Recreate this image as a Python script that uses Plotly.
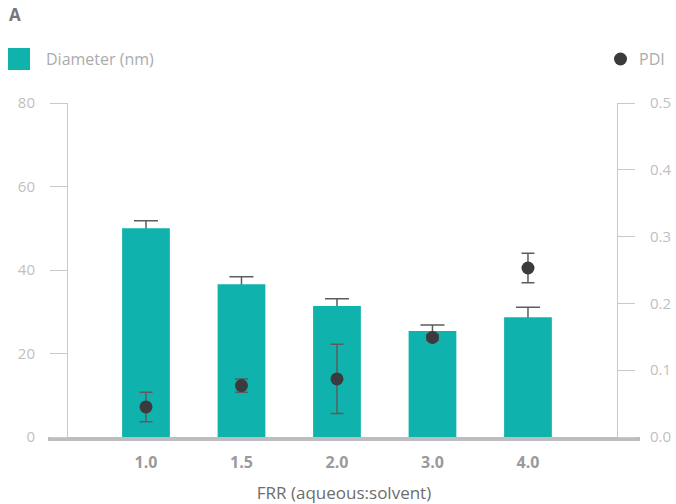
import plotly.graph_objects as go

# FRR categories and measurements
frr = ["1.0", "1.5", "2.0", "3.0", "4.0"]
diameter_nm = [50.0, 36.6, 31.4, 25.4, 28.7]
diameter_err = [1.8, 1.8, 1.7, 1.4, 2.4]
pdi = [0.045, 0.077, 0.087, 0.149, 0.253]
pdi_err = [0.022, 0.010, 0.052, 0.004, 0.022]

TEAL = "#10b2ad"
DOT = "#3b3b3d"
ERR = "#5c5c5e"
AXIS_GREY = "#c9c9cb"
FONT = "Open Sans"

fig = go.Figure()

# Diameter error whiskers on the main axis; bars on an overlay cover the lower half
fig.add_trace(go.Scatter(
    x=frr, y=diameter_nm, mode="markers",
    marker=dict(size=1, opacity=0),
    error_y=dict(type="data", array=diameter_err, color=ERR, thickness=1.5, width=12),
    yaxis="y", showlegend=False, hoverinfo="skip",
))

fig.add_trace(go.Bar(
    x=frr, y=diameter_nm, width=0.5, marker=dict(color=TEAL, line=dict(width=0)),
    yaxis="y2", name="Diameter (nm)", showlegend=False,
))

fig.add_trace(go.Scatter(
    x=frr, y=pdi, mode="markers",
    marker=dict(size=13, color=DOT),
    error_y=dict(type="data", array=pdi_err, color=ERR, thickness=1.5, width=6.5),
    yaxis="y3", name="PDI", showlegend=False,
))

ytick_font = dict(family=FONT, size=15, color="#bfbfc1")

fig.update_layout(
    width=676, height=504,
    margin=dict(l=48, r=36, t=103, b=67),
    paper_bgcolor="white", plot_bgcolor="white",
    font=dict(family=FONT),
    bargap=0.5,
    xaxis=dict(
        type="category", range=[-1.026, 5.173], domain=[0, 1], automargin=False,
        showline=True, linewidth=4, linecolor="#bdbdc0",
        ticks="", showgrid=False, zeroline=False,
        tickfont=dict(family=FONT, size=16, color="#9a9a9c", weight="bold"),
        ticklabelstandoff=8,
        title=dict(text="FRR (aqueous:solvent)", standoff=21,
                   font=dict(family=FONT, size=17, color="#6d6d6f")),
    ),
    yaxis=dict(
        range=[0, 80], tickvals=[0, 20, 40, 60, 80], anchor="free", position=0.0321,
        automargin=False,
        showline=True, linecolor=AXIS_GREY, linewidth=1,
        ticks="outside", ticklen=17, tickcolor=AXIS_GREY, tickwidth=1,
        showgrid=False, zeroline=False, tickfont=ytick_font, ticklabelstandoff=12,
    ),
    yaxis2=dict(range=[0, 80], overlaying="y", visible=False, anchor="free", position=0.0321),
    yaxis3=dict(
        range=[0, 0.5], tickvals=[0, 0.1, 0.2, 0.3, 0.4, 0.5], tickformat=".1f",
        overlaying="y", side="right", anchor="free", position=0.9611, automargin=False,
        showline=True, linecolor=AXIS_GREY, linewidth=1,
        ticks="outside", ticklen=17, tickcolor=AXIS_GREY, tickwidth=1,
        showgrid=False, zeroline=False, tickfont=ytick_font, ticklabelstandoff=12,
    ),
    shapes=[
        # legend swatch for the bars
        dict(type="rect", xref="paper", yref="paper",
             x0=(8 - 48) / 592, x1=(30 - 48) / 592,
             y0=(437 - 70) / 334, y1=(437 - 48) / 334,
             fillcolor=TEAL, line=dict(width=0)),
        # legend marker for PDI
        dict(type="circle", xref="paper", yref="paper",
             x0=(614 - 48) / 592, x1=(627 - 48) / 592,
             y0=(437 - 65.5) / 334, y1=(437 - 52.5) / 334,
             fillcolor=DOT, line=dict(width=0)),
    ],
    annotations=[
        dict(text="<b>A</b>", xref="paper", yref="paper",
             x=(7 - 48) / 592, y=(437 - 15) / 334, xanchor="left", yanchor="middle",
             showarrow=False, font=dict(family=FONT, size=17, color="#77777a")),
        dict(text="Diameter (nm)", xref="paper", yref="paper",
             x=(44 - 48) / 592, y=(437 - 59) / 334, xanchor="left", yanchor="middle",
             showarrow=False, font=dict(family=FONT, size=16, color="#ababad")),
        dict(text="PDI", xref="paper", yref="paper",
             x=(637 - 48) / 592, y=(437 - 59) / 334, xanchor="left", yanchor="middle",
             showarrow=False, font=dict(family=FONT, size=16, color="#ababad")),
    ],
)

fig.write_html("out.html")
